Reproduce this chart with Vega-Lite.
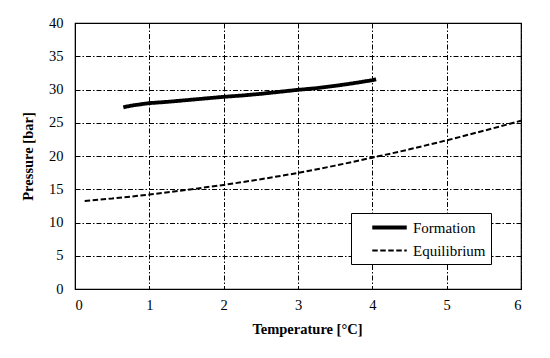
{
  "$schema": "https://vega.github.io/schema/vega-lite/v6.json",
  "autosize": "none",
  "width": 446,
  "height": 266,
  "padding": {"left": 75, "top": 23, "right": 29, "bottom": 69},
  "background": "white",
  "config": {
    "font": "Liberation Serif",
    "view": {"stroke": "black", "strokeWidth": 1.2},
    "axis": {
      "labelFont": "Liberation Serif",
      "titleFont": "Liberation Serif",
      "labelFontSize": 14.5,
      "titleFontSize": 14.5,
      "labelColor": "black",
      "titleColor": "black",
      "domainColor": "black",
      "gridColor": "black",
      "gridDash": [5, 2, 1.5, 2],
      "gridWidth": 1,
      "gridOpacity": 1,
      "ticks": false,
      "labelOverlap": false
    }
  },
  "data": {
    "values": [
      {"series": "Formation", "T": 0.65, "P": 27.3},
      {"series": "Formation", "T": 0.70, "P": 27.45},
      {"series": "Formation", "T": 0.80, "P": 27.65},
      {"series": "Formation", "T": 1.00, "P": 27.95},
      {"series": "Formation", "T": 1.25, "P": 28.15},
      {"series": "Formation", "T": 1.50, "P": 28.4},
      {"series": "Formation", "T": 1.75, "P": 28.65},
      {"series": "Formation", "T": 2.00, "P": 28.9},
      {"series": "Formation", "T": 2.25, "P": 29.1},
      {"series": "Formation", "T": 2.50, "P": 29.35},
      {"series": "Formation", "T": 2.75, "P": 29.65},
      {"series": "Formation", "T": 3.00, "P": 29.95},
      {"series": "Formation", "T": 3.25, "P": 30.2},
      {"series": "Formation", "T": 3.50, "P": 30.55},
      {"series": "Formation", "T": 3.75, "P": 30.95},
      {"series": "Formation", "T": 4.00, "P": 31.4},
      {"series": "Formation", "T": 4.05, "P": 31.55},
      {"series": "Equilibrium", "T": 0.13, "P": 13.25},
      {"series": "Equilibrium", "T": 0.5, "P": 13.6},
      {"series": "Equilibrium", "T": 1.0, "P": 14.2},
      {"series": "Equilibrium", "T": 1.5, "P": 14.9},
      {"series": "Equilibrium", "T": 2.0, "P": 15.65},
      {"series": "Equilibrium", "T": 2.5, "P": 16.5},
      {"series": "Equilibrium", "T": 3.0, "P": 17.45},
      {"series": "Equilibrium", "T": 3.5, "P": 18.55},
      {"series": "Equilibrium", "T": 4.0, "P": 19.75},
      {"series": "Equilibrium", "T": 4.5, "P": 21.0},
      {"series": "Equilibrium", "T": 5.0, "P": 22.35},
      {"series": "Equilibrium", "T": 5.5, "P": 23.8},
      {"series": "Equilibrium", "T": 6.0, "P": 25.3}
    ]
  },
  "mark": {"type": "line", "color": "black", "clip": true},
  "encoding": {
    "x": {
      "field": "T", "type": "quantitative",
      "scale": {"domain": [0, 6], "nice": false, "zero": false},
      "axis": {"title": "Temperature [°C]", "values": [0, 1, 2, 3, 4, 5, 6], "labelPadding": 9, "titlePadding": 11, "titleX": 232}
    },
    "y": {
      "field": "P", "type": "quantitative",
      "scale": {"domain": [0, 40], "nice": false},
      "axis": {"title": "Pressure [bar]", "values": [0, 5, 10, 15, 20, 25, 30, 35, 40], "labelPadding": 12, "titlePadding": 13}
    },
    "strokeDash": {
      "field": "series", "type": "nominal",
      "scale": {"domain": ["Formation", "Equilibrium"], "range": [[1, 0], [5.5, 2.5]]},
      "legend": {
        "title": null,
        "orient": "none",
        "legendX": 276,
        "legendY": 190,
        "direction": "vertical",
        "symbolType": "M-2.3,0H2.3",
        "symbolSize": 225,
        "symbolStrokeColor": "black",
        "labelFont": "Liberation Serif",
        "labelFontSize": 15,
        "labelColor": "black",
        "labelExpr": "datum.label + '\u00a0\u00a0\u00a0\u00a0\u00a0'",
        "fillColor": "white",
        "strokeColor": "black",
        "padding": 5,
        "rowPadding": 6,
        "labelOffset": 14,
        "symbolOffset": 24
      }
    },
    "strokeWidth": {
      "field": "series", "type": "nominal",
      "scale": {"domain": ["Formation", "Equilibrium"], "range": [3.8, 2]},
      "legend": null
    }
  }
}
